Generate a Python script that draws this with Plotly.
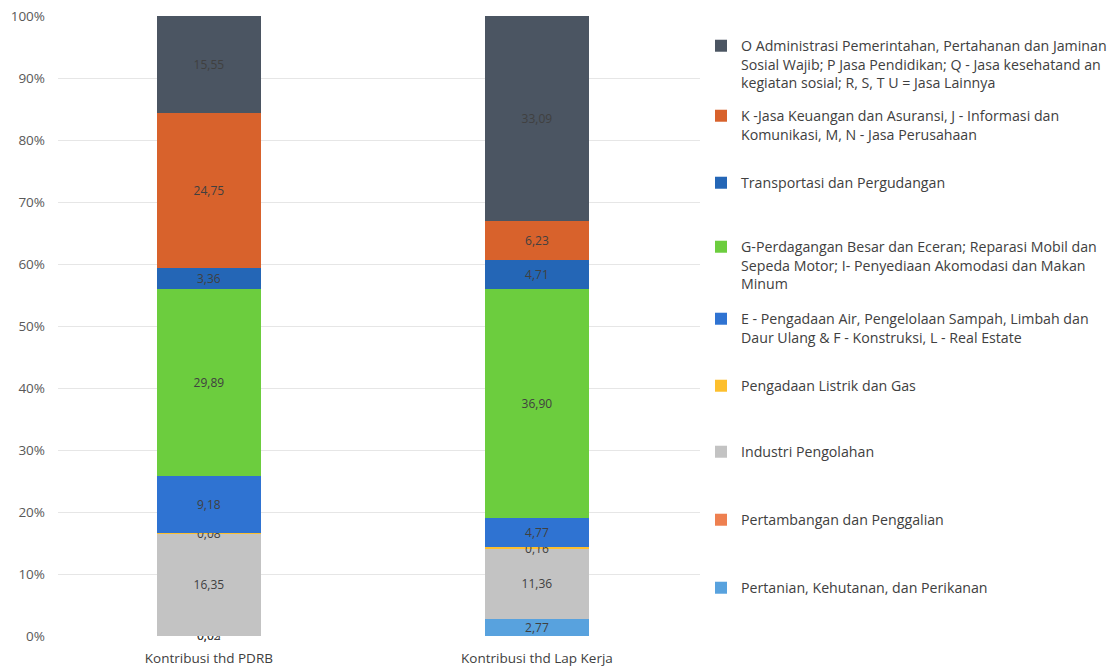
import plotly.graph_objects as go

categories = ["Kontribusi thd PDRB", "Kontribusi thd Lap Kerja"]

series_names = [
    "Pertanian, Kehutanan, dan Perikanan",
    "Pertambangan dan Penggalian",
    "Industri Pengolahan",
    "Pengadaan Listrik dan Gas",
    "E - Pengadaan Air, Pengelolaan Sampah, Limbah dan<br>Daur Ulang & F - Konstruksi, L - Real Estate",
    "G-Perdagangan Besar dan Eceran; Reparasi Mobil dan<br>Sepeda Motor; I- Penyediaan Akomodasi dan Makan<br>Minum",
    "Transportasi dan Pergudangan",
    "K -Jasa Keuangan dan Asuransi, J - Informasi dan<br>Komunikasi, M, N - Jasa Perusahaan",
    "O Administrasi Pemerintahan, Pertahanan dan Jaminan<br>Sosial Wajib; P Jasa Pendidikan; Q - Jasa kesehatand an<br>kegiatan sosial; R, S, T U = Jasa Lainnya",
]

pertanian = [0.03, 2.77]
pertambangan = [0.02, 0.00]
industri = [16.35, 11.36]
listrik = [0.08, 0.16]
air_konstruksi = [9.18, 4.77]
perdagangan = [29.89, 36.90]
transportasi = [3.36, 4.71]
keuangan = [24.75, 6.23]
jasa = [15.55, 33.09]

series_values = [pertanian, pertambangan, industri, listrik, air_konstruksi,
                 perdagangan, transportasi, keuangan, jasa]

colors = ["#58a2de", "#ee8050", "#c3c3c3", "#fdbf2d", "#2f73d2",
          "#6ccd3e", "#2466b6", "#d8622c", "#4b5562"]

# legend first-line centre (px from top), in stacking order
legend_line_y = [587, 519, 451, 385, 318, 246, 182, 115, 45]

W, H = 1115, 671
fig = go.Figure()
layout_legends = {}
for i, (name, vals) in enumerate(zip(series_names, series_values)):
    texts = [("" if v == 0 else f"{v:.2f}".replace(".", ",")) for v in vals]
    lg = f"legend{i+2}"
    fig.add_trace(go.Bar(
        x=categories, y=vals, name=name, marker_color=colors[i],
        marker_line_width=0,
        text=texts, textposition="inside", insidetextanchor="middle",
        constraintext="none", cliponaxis=False,
        textfont=dict(color="#404040", size=12, family="Open Sans"),
        legend=lg,
    ))
    layout_legends[lg] = dict(
        xref="container", yref="container",
        x=701 / W, y=1 - (legend_line_y[i] - 15) / H, xanchor="left", yanchor="top",
        bgcolor="rgba(0,0,0,0)", valign="top",
        font=dict(family="Open Sans", size=14.2, color="#404040"),
        itemwidth=30,
    )

fig.update_layout(
    width=W, height=H,
    barmode="stack", barnorm="percent", bargap=0.683,
    plot_bgcolor="white", paper_bgcolor="white",
    margin=dict(l=58, r=W - 700, t=16, b=35, autoexpand=False),
    font=dict(family="Open Sans", size=13.5, color="#595959"),
    xaxis=dict(range=[-0.46, 1.497], showline=False, ticks="",
               ticklabelstandoff=12,
               tickfont=dict(size=13.5, color="#404040")),
    yaxis=dict(range=[0, 100], dtick=10, ticksuffix="%", showline=False,
               gridcolor="#e6e6e6", gridwidth=1, zeroline=False,
               ticklabelstandoff=12,
               tickfont=dict(size=13.5, color="#595959")),
    **layout_legends,
)

fig.write_html("out.html")
